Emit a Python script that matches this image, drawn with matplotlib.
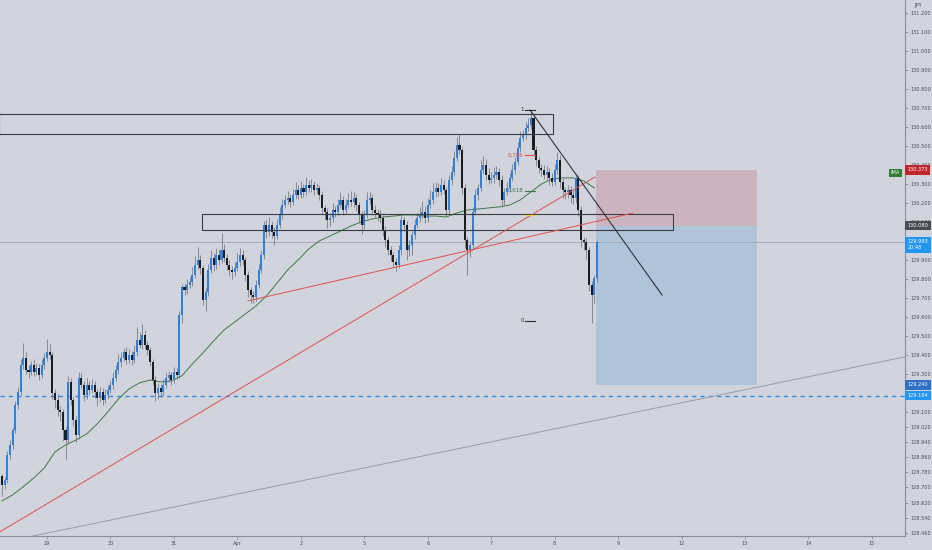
import matplotlib

matplotlib.use("Agg")
import matplotlib.pyplot as plt
import matplotlib.transforms as mtransforms
from matplotlib.patches import Rectangle

BG = "#d1d4dc"
UP, DOWN, WICK = "#2f7fdc", "#1c1d22", "#73767f"
TXT = "#4a4d57"
FS = 3.6

# hourly candles, bar index 0 = Mar 29 00:00 (weekends skipped)
first_idx = -17
first_open = 128.760
closes = [
    128.713, 128.740, 128.871, 128.924, 129.003, 129.135, 129.203, 129.345, 129.382, 129.319,
    129.309, 129.345, 129.309, 129.330, 129.293, 129.345, 129.382, 129.414, 129.398, 129.198,
    129.161, 129.108, 129.098, 129.003, 128.950, 129.256, 129.161, 129.056, 128.977, 129.277,
    129.240, 129.187, 129.240, 129.214, 129.240, 129.203, 129.171, 129.203, 129.161, 129.187,
    129.214, 129.240, 129.277, 129.319, 129.361, 129.382, 129.414, 129.371, 129.398, 129.371,
    129.414, 129.477, 129.451, 129.504, 129.451, 129.424, 129.361, 129.266, 129.198, 129.224,
    129.203, 129.240, 129.277, 129.293, 129.266, 129.309, 129.293, 129.609, 129.756, 129.741,
    129.767, 129.783, 129.820, 129.872, 129.899, 129.856, 129.688, 129.730, 129.846, 129.909,
    129.872, 129.925, 129.899, 129.951, 129.909, 129.872, 129.846, 129.835, 129.856, 129.888,
    129.925, 129.899, 129.820, 129.741, 129.714, 129.704, 129.767, 129.846, 129.925, 130.083,
    130.046, 130.083, 130.046, 130.025, 130.083, 130.136, 130.188, 130.215, 130.225, 130.204,
    130.241, 130.267, 130.241, 130.278, 130.257, 130.294, 130.278, 130.294, 130.267, 130.278,
    130.241, 130.173, 130.152, 130.109, 130.120, 130.162, 130.152, 130.188, 130.215, 130.162,
    130.188, 130.215, 130.204, 130.225, 130.188, 130.136, 130.083, 130.136, 130.215, 130.225,
    130.162, 130.146, 130.136, 130.120, 130.057, 130.004, 129.951, 129.925, 129.888, 129.872,
    129.951, 130.109, 130.083, 129.951, 129.978, 130.030, 130.083, 130.120, 130.136, 130.152,
    130.120, 130.188, 130.215, 130.257, 130.278, 130.257, 130.294, 130.267, 130.162, 130.320,
    130.362, 130.436, 130.505, 130.478, 130.278, 130.004, 129.951, 129.978, 130.152, 130.241,
    130.278, 130.373, 130.399, 130.346, 130.320, 130.331, 130.346, 130.362, 130.320, 130.215,
    130.257, 130.278, 130.331, 130.373, 130.415, 130.489, 130.541, 130.557, 130.594, 130.610,
    130.647, 130.478, 130.426, 130.383, 130.373, 130.346, 130.362, 130.331, 130.310, 130.373,
    130.426, 130.310, 130.267, 130.257, 130.267, 130.241, 130.225, 130.331, 130.162, 130.004,
    129.993, 129.951, 129.767, 129.714, 129.804, 129.993,
]
# wick lengths above / below the body, in 0.001 JPY
wick_up = [
    10, 15, 20, 25, 15, 20, 25, 30, 80, 30,
    25, 20, 30, 25, 20, 30, 25, 70, 40, 15,
    20, 30, 20, 15, 15, 30, 20, 15, 20, 30,
    25, 20, 35, 20, 30, 20, 15, 25, 20, 30,
    25, 20, 30, 25, 40, 30, 20, 25, 30, 20,
    35, 70, 40, 55, 25, 20, 15, 15, 20, 25,
    20, 30, 25, 20, 15, 25, 20, 20, 15, 20,
    30, 25, 40, 45, 70, 25, 15, 20, 30, 40,
    25, 35, 30, 90, 30, 20, 25, 20, 30, 45,
    35, 25, 15, 20, 15, 20, 25, 30, 25, 20,
    25, 40, 20, 25, 30, 40, 30, 25, 35, 20,
    30, 40, 25, 35, 20, 40, 25, 30, 20, 25,
    15, 20, 15, 20, 25, 35, 20, 30, 40, 20,
    30, 35, 45, 30, 20, 15, 20, 25, 40, 30,
    20, 25, 20, 25, 15, 20, 15, 20, 15, 20,
    25, 20, 15, 20, 25, 20, 30, 25, 40, 55,
    30, 35, 50, 45, 30, 25, 35, 25, 15, 25,
    30, 35, 40, 55, 15, 20, 15, 20, 25, 30,
    20, 50, 45, 30, 35, 30, 40, 30, 20, 25,
    20, 30, 25, 30, 25, 30, 35, 25, 30, 35,
    40, 15, 20, 15, 20, 25, 30, 20, 25, 30,
    40, 25, 20, 15, 25, 20, 25, 20, 15, 20,
    15, 20, 15, 20, 15, 10,
]
wick_dn = [
    60, 20, 15, 20, 20, 15, 20, 15, 20, 20,
    30, 15, 20, 15, 25, 15, 20, 15, 20, 30,
    40, 30, 50, 60, 100, 20, 25, 30, 40, 20,
    15, 30, 20, 25, 15, 30, 40, 20, 25, 15,
    20, 15, 20, 15, 20, 25, 15, 20, 15, 25,
    15, 20, 15, 20, 15, 25, 20, 25, 40, 30,
    25, 20, 15, 20, 25, 15, 20, 15, 40, 25,
    20, 15, 20, 15, 20, 30, 25, 60, 20, 15,
    30, 20, 25, 15, 20, 25, 30, 35, 20, 15,
    20, 25, 30, 35, 40, 30, 20, 15, 15, 20,
    30, 20, 30, 45, 15, 15, 20, 15, 20, 25,
    15, 20, 20, 15, 25, 15, 20, 20, 25, 15,
    25, 30, 35, 40, 30, 20, 25, 20, 15, 25,
    20, 15, 20, 25, 30, 35, 45, 20, 15, 20,
    25, 20, 30, 25, 30, 35, 25, 30, 25, 30,
    15, 25, 30, 50, 30, 55, 20, 15, 20, 15,
    25, 20, 15, 20, 25, 20, 15, 20, 30, 20,
    25, 20, 15, 20, 30, 40, 130, 35, 20, 15,
    25, 15, 20, 25, 20, 15, 25, 20, 30, 35,
    25, 15, 20, 15, 20, 15, 20, 15, 20, 15,
    20, 25, 30, 25, 30, 20, 25, 35, 20, 15,
    20, 30, 40, 35, 30, 40, 30, 25, 30, 35,
    40, 45, 30, 145, 40, 20,
]

# moving average (green), read every 4 bars
ma_idx = list(range(-17, 208, 4))
ma_vals = [
    128.629, 128.661, 128.703, 128.750, 128.803, 128.887, 128.924, 128.950, 128.982, 129.035,
    129.098, 129.166, 129.219, 129.251, 129.266, 129.256, 129.261, 129.288, 129.351, 129.409,
    129.472, 129.530, 129.572, 129.614, 129.656, 129.709, 129.777, 129.846, 129.899, 129.957,
    129.999, 130.025, 130.051, 130.078, 130.099, 130.115, 130.125, 130.130, 130.136, 130.136,
    130.130, 130.130, 130.125, 130.146, 130.162, 130.167, 130.173, 130.178, 130.188, 130.215,
    130.257, 130.299, 130.325, 130.331, 130.331, 130.315, 130.278,
]

day_labels = ["29", "30", "31", "Apr", "2", "5", "6", "7", "8", "9", "12", "13", "14", "15"]
price_ticks = [131.2, 131.1, 131.0, 130.9, 130.8, 130.7, 130.6, 130.5, 130.4, 130.3, 130.2,
               130.1, 129.9, 129.8, 129.7, 129.6, 129.5, 129.4, 129.3, 129.1, 129.02,
               128.94, 128.86, 128.78, 128.70, 128.62, 128.54, 128.46]

# drawings: (bar idx, price) pairs
zone_top = (-18.0, 191.4, 130.562, 130.668)
zone_mid = (58.6, 236.8, 130.057, 130.141)
red_trend_a = ([-17.8, 207.3], [128.466, 130.336])
red_trend_b = ([76.0, 221.6], [129.683, 130.146])
black_trend = ([182.7, 232.6], [130.689, 129.714])
grey_trend = ([-5.3, 324.5], [128.444, 129.388])
support = 129.184
last_price = 129.993
position = dict(x0=207.6, x1=268.5, stop=130.373, entry=130.080, target=129.240)
fib_hi, fib_lo = 130.689, 129.577

# ------------------------------------------------------------------ figure
fig = plt.figure(figsize=(9.32, 5.5), dpi=100, facecolor=BG)
ax = fig.add_axes([0, 14 / 550, 905 / 932, 536 / 550])
ax.set_facecolor(BG)
ax.set_xlim(-17.78, 324.5)
ax.set_ylim(128.444, 131.2685)

# position tool
ax.add_patch(Rectangle((position["x0"], position["entry"]), position["x1"] - position["x0"],
                       position["stop"] - position["entry"], fc="#cbb4bd", ec="none", zorder=1))
ax.add_patch(Rectangle((position["x0"], position["target"]), position["x1"] - position["x0"],
                       position["entry"] - position["target"], fc="#afc3d9", ec="none", zorder=1))

for x0, x1, y0, y1 in (zone_top, zone_mid):
    ax.add_patch(Rectangle((x0, y0), x1 - x0, y1 - y0, fc="none", ec="#3a3d45", lw=0.8, zorder=4))

ax.axhline(last_price, color="#a3a6b0", lw=0.6, zorder=1)
ax.axhline(support, color="#2f8ce6", lw=1.0, ls=(0, (3, 3)), zorder=2)

ax.plot(*grey_trend, color="#9a9da6", lw=0.7, zorder=2)
ax.plot(*red_trend_a, color="#e0534f", lw=0.7, zorder=5)
ax.plot(*red_trend_b, color="#e0534f", lw=0.7, zorder=5)
ax.plot(*black_trend, color="#30333b", lw=0.8, zorder=5)

ax.plot(ma_idx, ma_vals, color="#3f7a45", lw=0.7, zorder=2)

# candles
idx = list(range(first_idx, first_idx + len(closes)))
opens = [first_open] + closes[:-1]
highs = [max(o, c) + u / 1000 for o, c, u in zip(opens, closes, wick_up)]
lows = [min(o, c) - d / 1000 for o, c, d in zip(opens, closes, wick_dn)]
cols = [UP if c >= o else DOWN for o, c in zip(opens, closes)]
ax.vlines(idx, lows, highs, color=WICK, lw=0.55, zorder=3)
bodies = [max(abs(c - o), 0.005) for o, c in zip(opens, closes)]
ax.bar(idx, bodies, bottom=[min(o, c) for o, c in zip(opens, closes)], width=0.78,
       color=cols, lw=0, zorder=3)

# fib levels
span = fib_hi - fib_lo
for lvl, lab, col in ((1, "1", "#2a2c33"), (0.786, "0.786", "#e0504a"),
                      (0.618, "0.618", "#3f7a45"), (0.5, "", "#e8d23a"), (0, "0", "#2a2c33")):
    y = fib_lo + lvl * span
    ax.plot([180.8, 184.6], [y, y], color=col, lw=0.8, zorder=5)
    ax.text(180.3, y, lab, color=col, fontsize=4.0, ha="right", va="center", zorder=5)

# axes styling
for s in ("top", "left"):
    ax.spines[s].set_visible(False)
for s in ("right", "bottom"):
    ax.spines[s].set_color("#8a8d96")
    ax.spines[s].set_linewidth(0.8)
ax.yaxis.tick_right()
ax.set_yticks(price_ticks)
ax.set_yticklabels([f"{p:.3f}" for p in price_ticks])
ax.set_xticks([24 * k for k in range(len(day_labels))])
ax.set_xticklabels(day_labels)
ax.tick_params(axis="both", labelsize=FS, colors="#8a8d96", labelcolor=TXT,
               length=2.5, width=0.6, pad=1.2)

# price labels on the scale
tr = mtransforms.blended_transform_factory(ax.transAxes, ax.transData)
for price, txt, col in ((position["stop"], "130.373", "#c0272d"),
                        (position["entry"], "130.080", "#4a4c52"),
                        (position["target"], "129.240", "#2f6fc4"),
                        (support, "129.184", "#2196f3")):
    ax.text(1.003, price, txt, transform=tr, ha="left", va="center", fontsize=FS,
            color="white", clip_on=False, zorder=10,
            bbox=dict(boxstyle="square,pad=0.45", fc=col, ec="none"))
ax.text(1.003, last_price + 0.014, "129.993\n20:48", transform=tr, ha="left", va="top",
        fontsize=FS, color="white", clip_on=False, zorder=10, linespacing=1.25,
        bbox=dict(boxstyle="square,pad=0.45", fc="#2196f3", ec="none"))
ax.text(0.9895, 130.357, "IMA", transform=tr, ha="center", va="center", fontsize=3.6,
        color="white", zorder=10, bbox=dict(boxstyle="square,pad=0.35", fc="#2e7d32", ec="none"))
fig.text(918 / 932, 1 - 6 / 550, "JPY", fontsize=3.8, ha="center", va="center", color=TXT)

fig.savefig("out.png", dpi=100, facecolor=BG)
